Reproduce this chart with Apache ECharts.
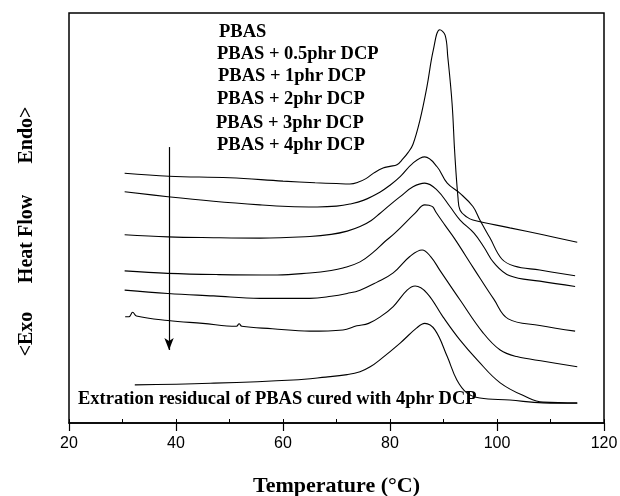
<!DOCTYPE html>
<html>
<head>
<meta charset="utf-8">
<script src="https://cdn.jsdelivr.net/npm/echarts@6/dist/echarts.min.js"></script>
<style>html,body{margin:0;padding:0;background:#fff}#c{width:620px;height:496px}</style>
</head>
<body>
<div id="c"></div>
<script>
// Temperature (°C) vs heat flow (arbitrary units, offset curves)
const xTicks = [20, 40, 60, 80, 100, 120];
const seriesNames = ['PBAS', 'PBAS + 0.5phr DCP', 'PBAS + 1phr DCP', 'PBAS + 2phr DCP', 'PBAS + 3phr DCP', 'PBAS + 4phr DCP'];
const residualName = 'Extration residucal of PBAS cured with 4phr DCP';

const pbas = [[30.4,60.9],[38.7,60.2],[50,59.8],[60,59.0],[66,58.6],[70,58.4],[72.5,58.3],[74,58.7],[75.5,59.6],[77,61.0],[78.7,62.2],[80,62.6],[81.3,63.0],[82.4,64.4],[83.4,66.0],[84.3,68.0],[85.6,73.9],[86.9,82.0],[88.1,91.0],[89.3,95.9],[90.3,94.6],[90.8,89.3],[91.6,78.0],[92.1,65.9],[92.7,55.1],[93.1,51.9],[94.4,50.2],[95.5,49.5],[102.4,47.6],[108.6,45.9],[115,44.1]];
const dcp05 = [[30.4,56.4],[38.5,55.2],[47,54.1],[55.7,53.2],[61,52.8],[66.4,52.7],[70,52.9],[72.5,53.4],[75,54.3],[78.1,56.3],[80,58.0],[81.9,60.1],[84.3,63.4],[86.5,64.9],[88.8,62.5],[90.7,58.5],[93.1,56.0],[95.5,52.8],[96.8,49.5],[98.7,45.1],[100.9,40.0],[103.2,38.3],[108,37.3],[114.6,35.9]];
const dcp1 = [[30.4,45.9],[38.5,45.4],[47,45.2],[55.7,45.1],[65.0,45.5],[69,46.0],[72,46.8],[74.4,47.9],[76.5,49.4],[78.1,51.1],[80,53.2],[81.9,55.2],[84.3,57.6],[86.5,58.5],[88.8,56.8],[91.2,52.8],[93.1,49.5],[95.7,46.3],[97.6,42.8],[99.4,39.1],[102.4,35.9],[108,34.6],[114.6,33.3]];
const dcp2 = [[30.4,37.1],[38.5,36.5],[48,36.2],[58.9,36.1],[65,36.6],[69,37.2],[71.2,37.8],[74.4,39.3],[77,41.8],[79,44.2],[80.9,46.3],[84.7,51.2],[86.5,53.2],[87.3,53.1],[88.0,52.7],[88.6,51.4],[90.3,48.2],[92.1,44.9],[95.7,37.6],[99.4,30.2],[102.1,25.4],[108,23.8],[114.6,22.4]];
const dcp3 = [[30.4,32.4],[38.5,31.6],[47,31.0],[55.7,30.4],[65.0,30.4],[69,30.9],[72,31.6],[74.4,32.4],[77.5,34.3],[80.6,36.6],[83.7,40.6],[86.0,42.2],[87.6,40.6],[89.3,37.3],[93.1,30.0],[97.4,22.0],[100.6,17.8],[103.7,16.2],[109,15.0],[115,13.7]];
const dcp4 = [[30.5,25.9],[31.2,25.9],[31.9,27.0],[32.6,26.1],[38.5,25.0],[45,24.3],[51.3,23.6],[51.8,24.2],[52.3,23.6],[58,23.0],[65.0,22.4],[71.2,22.7],[73.8,23.7],[76.0,24.3],[78.3,26.0],[80.6,28.4],[83.2,32.4],[84.7,33.4],[86.9,31.7],[89.9,25.9],[93.1,20.2],[96.3,15.4],[100.6,9.8],[105.6,6.3],[108.6,5.1],[115,4.9]];
const residual = [[32.3,9.3],[46.4,9.7],[61.9,10.5],[68,11.2],[72,11.8],[74.4,12.5],[76.3,13.7],[78.1,15.4],[81.9,19.5],[85.0,23.2],[86.5,24.3],[88.4,22.7],[90.7,16.2],[92.5,10.5],[94.4,7.3],[96.8,6.1],[102.4,5.6],[108.6,4.9],[115,4.8]];
const arrowX = 38.7;
const arrowFrom = 67.3;
const arrowTo = 17.8;

const chart = echarts.init(document.getElementById('c'), null, {renderer: 'canvas'});
const serif = '"Liberation Serif", "Times New Roman", serif';
const sans = '"Liberation Sans", Arial, sans-serif';

const curves = [pbas, dcp05, dcp1, dcp2, dcp3, dcp4, residual];
const allNames = seriesNames.concat([residualName]);
const series = curves.map((d, i) => ({
  type: 'line', name: allNames[i], data: d, showSymbol: false, symbol: 'none',
  smooth: 0.4,
  lineStyle: {color: '#000', width: 1.1}, silent: true, z: 3
}));
series.push({
  type: 'line', data: [], silent: true,
  markLine: {
    silent: true, symbol: ['none', 'arrow'], symbolSize: [7, 12],
    lineStyle: {color: '#000', width: 1.2, type: 'solid'}, label: {show: false},
    data: [[{coord: [arrowX, arrowFrom]}, {coord: [arrowX, arrowTo]}]]
  }
});

const legendY = [33, 55, 77, 100, 124, 146];
const legendX = [219, 217, 218, 217, 216, 217];
const graphics = seriesNames.map((n, i) => ({
  type: 'text', left: legendX[i], top: legendY[i] - 10,
  style: {text: n, font: 'bold 18.5px ' + serif, fill: '#000'}
}));
graphics.push({type: 'text', left: 78, top: 390, style: {text: residualName, font: 'bold 18.5px ' + serif, fill: '#000'}});
const ylab = [['Endo>', 135], ['Heat Flow', 239], ['<Exo', 334]];
ylab.forEach(([t, y]) => graphics.push({
  type: 'text', x: 27, y: y, rotation: Math.PI / 2,
  style: {text: t, font: 'bold 20px ' + serif, fill: '#000', align: 'center', verticalAlign: 'middle'}
}));

chart.setOption({
  animation: false,
  backgroundColor: '#fff',
  grid: {left: 69, right: 16, top: 13, bottom: 73, containLabel: false, outerBoundsMode: 'none',
    show: true, borderColor: '#000', borderWidth: 1.5, backgroundColor: 'transparent'},
  xAxis: [{
    type: 'value', min: xTicks[0], max: xTicks[xTicks.length - 1], interval: 20,
    axisLine: {show: true, lineStyle: {color: '#000', width: 1.5}},
    axisTick: {show: true, inside: false, length: 8, lineStyle: {color: '#000', width: 1.2}},
    axisLabel: {color: '#000', fontSize: 16, fontFamily: sans, margin: 13},
    splitLine: {show: false},
    name: 'Temperature (°C)', nameLocation: 'middle', nameGap: 52,
    nameTextStyle: {color: '#000', fontSize: 22, fontWeight: 'bold', fontFamily: serif}
  }, {
    type: 'value', min: 20, max: 120, interval: 10, position: 'bottom',
    axisLine: {show: false}, axisLabel: {show: false}, splitLine: {show: false},
    axisTick: {show: true, inside: true, length: 4, lineStyle: {color: '#000', width: 1}}
  }],
  yAxis: {type: 'value', min: 0, max: 100, show: false},
  graphic: graphics,
  series: series
});
</script>
</body>
</html>
